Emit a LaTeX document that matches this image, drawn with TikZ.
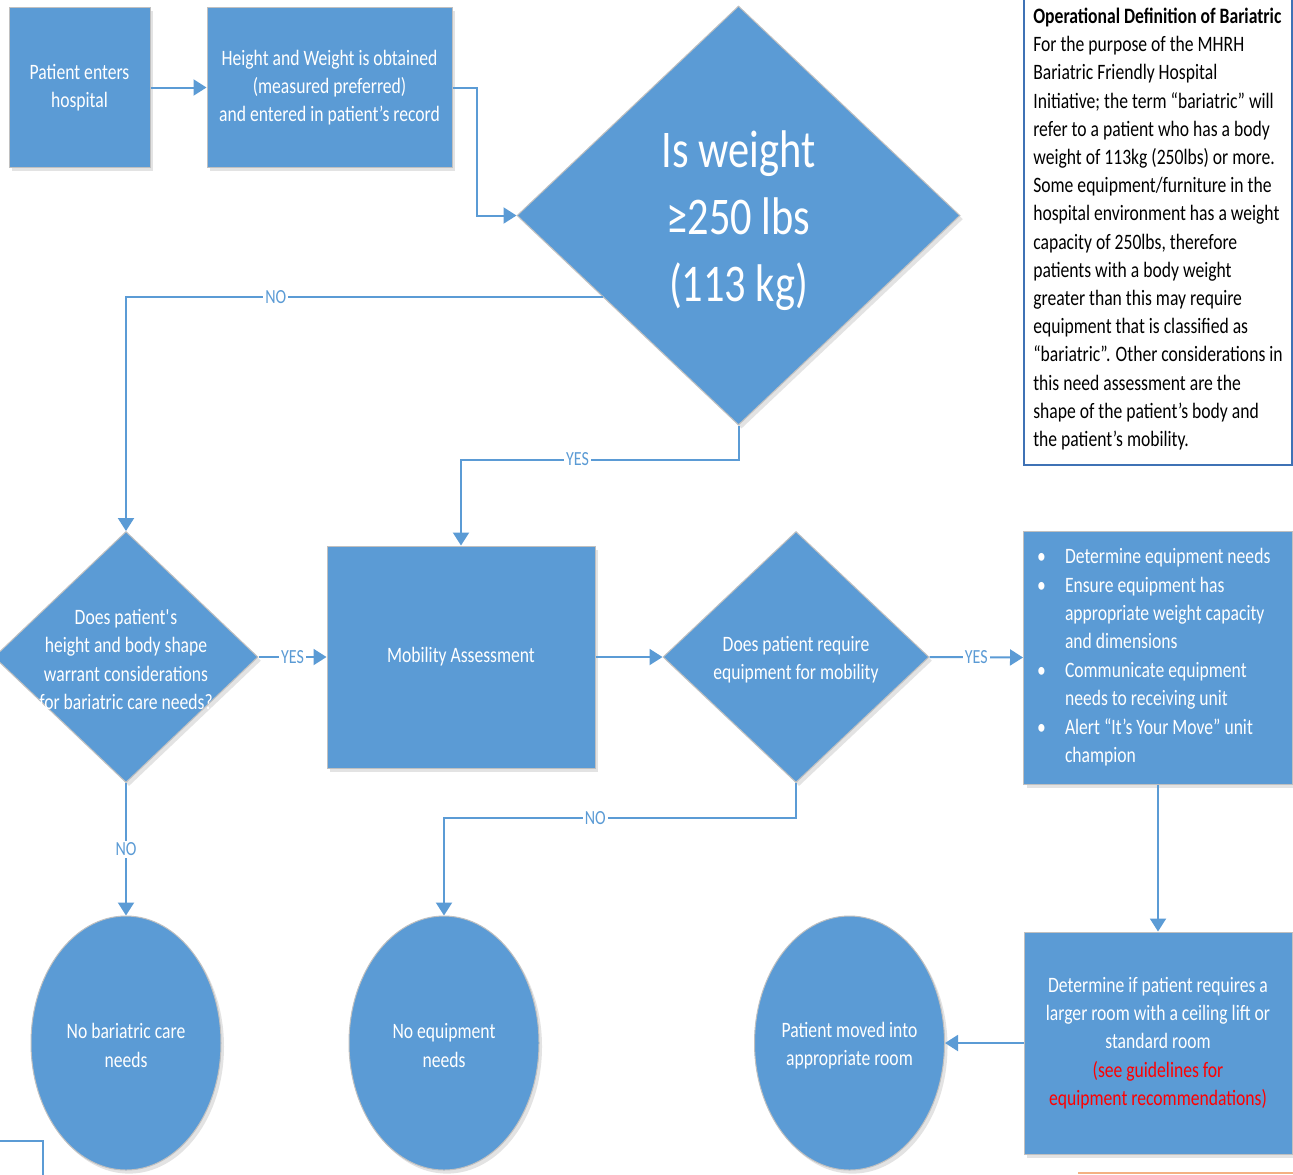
\documentclass[tikz,border=0pt]{standalone}
\usepackage{fontspec}
\setmainfont{Carlito}[FakeStretch=0.8]
\usepackage{xcolor}
\usepackage{tikz}
\usetikzlibrary{arrows.meta,positioning,calc,shapes.geometric,shadows}
\definecolor{Flow}{HTML}{5B9BD5}
\definecolor{Rim}{HTML}{C0C0C0}
\definecolor{Frame}{HTML}{3F72B5}
\definecolor{Peach}{HTML}{F4B183}

\begin{document}
\begin{tikzpicture}[x=0.5pt,y=-0.5pt,font=\fontsize{11}{14.1}\selectfont,>={Triangle[length=6.5pt,width=8pt]},
  blk/.style={draw=Rim,line width=0.5pt,fill=Flow,text=white,align=center,
    drop shadow={opacity=0.22,shadow xshift=1.5pt,shadow yshift=-1.8pt}},
  procbox/.style={blk,rectangle},
  askdia/.style={blk,diamond,inner sep=0pt},
  endoval/.style={blk,ellipse,inner sep=0pt},
  intext/.style={text=white,align=center,yshift=-1.2pt},
  conn/.style={draw=Flow,line width=1pt,->},
  lbl/.style={fill=white,text=Flow,inner sep=1pt,font=\fontsize{10}{11}\selectfont}]
  \useasboundingbox (0,0) rectangle (1293,1174);
  \fill[white] (0,0) rectangle (1293,1174);
  \clip (0,0) rectangle (1293,1174);

  % top row
  \node[procbox,minimum width=70.5pt,minimum height=80pt] (pa) at (79.5,87.5) {Patient enters\\hospital};
  \node[procbox,minimum width=122.5pt,minimum height=80pt] (hw) at (329.5,87.5)
    {Height and Weight is obtained\\(measured preferred)\\and entered in patient’s record};
  \node[askdia,minimum width=221.5pt,minimum height=209.5pt,
    label={[intext,yshift=-1.5pt,font=\fontsize{26.5}{33.5}\selectfont]center:{Is weight\\≥250 lbs\\(113 kg)}}] (wt) at (738.5,215.5) {};
  \coordinate (wtno) at ($(wt.west)!0.39!(wt.south)$);

  % definition
  \node[draw=Frame,line width=0.75pt,fill=white,text=black,align=left,minimum width=134pt,minimum height=236pt] (def) at (1158,229)
    {\textbf{Operational Definition of Bariatric}\\For the purpose of the MHRH\\Bariatric Friendly Hospital\\
     Initiative; the term “bariatric” will\\refer to a patient who has a body\\weight of 113kg (250lbs) or more.\\
     Some equipment/furniture in the\\hospital environment has a weight\\capacity of 250lbs, therefore\\
     patients with a body weight\\greater than this may require\\equipment that is classified as\\
     “bariatric”. Other considerations in\\this need assessment are the\\shape of the patient’s body and\\
     the patient’s mobility.};

  % middle row
  \node[askdia,minimum width=132pt,minimum height=125.5pt,
    label={[intext]center:{Does patient\textquotesingle s\\height and body shape\\warrant considerations\\for bariatric care needs?}}] (bs) at (126,657) {};
  \node[procbox,minimum width=134pt,minimum height=111pt] (mob) at (461,657) {Mobility Assessment};
  \node[askdia,minimum width=133pt,minimum height=125.5pt,
    label={[intext]center:{Does patient require\\equipment for mobility}}] (eq) at (796,657) {};
  \node[procbox,minimum width=134.5pt,minimum height=126.5pt,font=\fontsize{11}{14.2}\selectfont] (bul) at (1158,657.5)
    {\begin{tabular}{@{}p{14pt}@{}p{107pt}@{}}
     •&Determine equipment needs\\
     •&Ensure equipment has\\
      &appropriate weight capacity\\
      &and dimensions\\
     •&Communicate equipment\\
      &needs to receiving unit\\
     •&Alert “It’s Your Move” unit\\
      &champion
     \end{tabular}};

  % bottom row
  \node[endoval,minimum width=95pt,minimum height=127pt,label={[intext]center:{No bariatric care\\needs}}] (nb) at (126,1043) {};
  \node[endoval,minimum width=95pt,minimum height=127pt,label={[intext]center:{No equipment\\needs}}] (ne) at (444,1043) {};
  \node[endoval,minimum width=95pt,minimum height=127pt,label={[intext]center:{Patient moved into\\appropriate room}}] (pm) at (849.5,1043) {};
  \node[procbox,minimum width=134pt,minimum height=111pt] (det) at (1158,1043)
    {Determine if patient requires a\\larger room with a ceiling lift or\\standard room\\
     {\color{red}(see guidelines for}\\{\color{red}equipment recommendations)}};

  % connectors
  \draw[conn] (pa) -- (hw);
  \draw[conn] (hw.east) -- ++(24,0) |- (wt.west);
  \draw[conn] (wtno) -| node[lbl,pos=0.343]{NO} (bs.north);
  \draw[conn] (wt.south) -- ++(0,34) -| node[lbl,pos=0.29]{YES} (mob.north);
  \draw[conn] (bs.east) -- node[lbl]{YES} (mob.west);
  \draw[conn] (mob) -- (eq);
  \draw[conn] (eq.east) -- node[lbl]{YES} (bul.west);
  \draw[conn] (bs.south) -- node[lbl]{NO} (nb.north);
  \draw[conn] (eq.south) -- ++(0,35) -| node[lbl,pos=0.285]{NO} (ne.north);
  \draw[conn] (bul.south) -- (det.north);
  \draw[conn] (det.west) -- (pm.east);

  % cut-off edges
  \draw[Flow,line width=0.9pt] (-10,1141) -- (43,1141) -- (43,1190);
  \draw[Peach,line width=1pt] (1078,1173) -- (1300,1173);
\end{tikzpicture}
\end{document}
